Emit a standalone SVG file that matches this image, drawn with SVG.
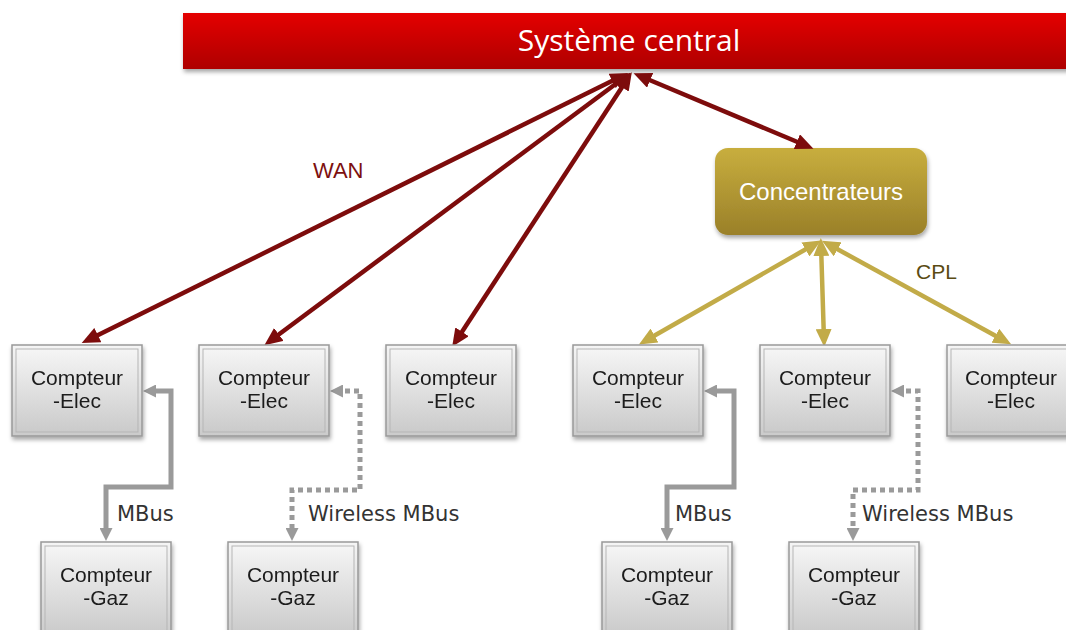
<svg xmlns="http://www.w3.org/2000/svg" width="1066" height="630" viewBox="0 0 1066 630">
<defs>
<linearGradient id="gRed" x1="0" y1="0" x2="0" y2="1"><stop offset="0" stop-color="#e40000"/><stop offset="1" stop-color="#ae0000"/></linearGradient>
<linearGradient id="gGold" x1="0" y1="0" x2="0" y2="1"><stop offset="0" stop-color="#c8ae3e"/><stop offset="1" stop-color="#9a8029"/></linearGradient>
<linearGradient id="gBox" x1="0" y1="0" x2="0" y2="1"><stop offset="0" stop-color="#f5f5f5"/><stop offset="1" stop-color="#cbcbcb"/></linearGradient>
<filter id="sh" x="-10%" y="-10%" width="130%" height="140%"><feDropShadow dx="1" dy="3" stdDeviation="2" flood-color="#000" flood-opacity="0.35"/></filter>
<marker id="aRed" markerUnits="userSpaceOnUse" viewBox="0 0 18 16" refX="11" refY="8" markerWidth="18" markerHeight="16" orient="auto-start-reverse"><path d="M0,0 L18,8 L0,16 z" fill="#7d0c0c"/></marker>
<marker id="aGold" markerUnits="userSpaceOnUse" viewBox="0 0 18 16" refX="11" refY="8" markerWidth="18" markerHeight="16" orient="auto-start-reverse"><path d="M0,0 L18,8 L0,16 z" fill="#c2ab48"/></marker>
<marker id="aGray" markerUnits="userSpaceOnUse" viewBox="0 0 13 13" refX="7" refY="6.5" markerWidth="13" markerHeight="13" orient="auto-start-reverse"><path d="M0,0 L13,6.5 L0,13 z" fill="#9a9a9a"/></marker>
<style>
.box{fill:url(#gBox);stroke:#999;stroke-width:1.5}
.inner{fill:url(#gBox);stroke:#b5b5b5;stroke-width:1}
.bt{font-family:"Liberation Sans",Arial,sans-serif;font-size:21px;fill:#1a1a1a;text-anchor:middle}
.red{stroke:#7d0c0c;stroke-width:4.5;fill:none;marker-start:url(#aRed);marker-end:url(#aRed)}
.gold{stroke:#c2ab48;stroke-width:4.5;fill:none;marker-start:url(#aGold);marker-end:url(#aGold)}
.gs{stroke:#9a9a9a;stroke-width:5;fill:none;marker-start:url(#aGray);marker-end:url(#aGray)}
.gd{stroke:#9a9a9a;stroke-width:5;fill:none;stroke-dasharray:5 4;marker-start:url(#aGray);marker-end:url(#aGray)}
.lbl{font-family:"DejaVu Sans",Verdana,sans-serif;font-size:21px;fill:#333}
</style>
</defs>

<g id="central">
<rect x="183" y="13" width="890" height="56" fill="url(#gRed)" filter="url(#sh)"/>
<text x="629" y="51" font-family="Open Sans, Liberation Sans, sans-serif" font-size="30" fill="#fff" text-anchor="middle">Système central</text>
</g>

<g id="concentrateurs">
<rect x="715" y="148" width="212" height="87" rx="13" fill="url(#gGold)" filter="url(#sh)"/>
<text x="821" y="200" font-family="Liberation Sans, Arial, sans-serif" font-size="24" fill="#fff" text-anchor="middle">Concentrateurs</text>
</g>

<g id="connectors">
<path class="red" d="M622,76 L88,340"/>
<path class="red" d="M625,77 L270,341"/>
<path class="red" d="M628,78 L456,341"/>
<path class="red" d="M640,76 L807,146"/>
<path class="gold" d="M815,244 L645,341"/>
<path class="gold" d="M821,245 L824,340"/>
<path class="gold" d="M828,244 L1005,341"/>
<path class="gs" d="M149,391 H171 V487 H106 V535"/>
<path class="gd" d="M336,391 H360 V490 H292 V535"/>
<path class="gs" d="M710,391 H734 V487 H667 V535"/>
<path class="gd" d="M897,391 H918 V490 H853 V535"/>
</g>

<g id="labels">
<text x="313" y="178" font-family="Liberation Sans, Arial, sans-serif" font-size="22" fill="#7d1010">WAN</text>
<text x="916" y="279" font-family="Liberation Sans, Arial, sans-serif" font-size="21" fill="#5a4b12">CPL</text>
<text class="lbl" x="117" y="521">MBus</text>
<text class="lbl" x="308" y="521">Wireless MBus</text>
<text class="lbl" x="675" y="521">MBus</text>
<text class="lbl" x="862" y="521">Wireless MBus</text>
</g>

<g id="elec1" filter="url(#sh)"><rect class="box" x="12" y="345" width="130" height="91"/><rect class="inner" x="16" y="349" width="122" height="83"/><text class="bt" x="77" y="385">Compteur</text><text class="bt" x="77" y="408">-Elec</text></g>
<g id="elec2" filter="url(#sh)"><rect class="box" x="199" y="345" width="130" height="91"/><rect class="inner" x="203" y="349" width="122" height="83"/><text class="bt" x="264" y="385">Compteur</text><text class="bt" x="264" y="408">-Elec</text></g>
<g id="elec3" filter="url(#sh)"><rect class="box" x="386" y="345" width="130" height="91"/><rect class="inner" x="390" y="349" width="122" height="83"/><text class="bt" x="451" y="385">Compteur</text><text class="bt" x="451" y="408">-Elec</text></g>
<g id="elec4" filter="url(#sh)"><rect class="box" x="573" y="345" width="130" height="91"/><rect class="inner" x="577" y="349" width="122" height="83"/><text class="bt" x="638" y="385">Compteur</text><text class="bt" x="638" y="408">-Elec</text></g>
<g id="elec5" filter="url(#sh)"><rect class="box" x="760" y="345" width="130" height="91"/><rect class="inner" x="764" y="349" width="122" height="83"/><text class="bt" x="825" y="385">Compteur</text><text class="bt" x="825" y="408">-Elec</text></g>
<g id="elec6" filter="url(#sh)"><rect class="box" x="947" y="345" width="130" height="91"/><rect class="inner" x="951" y="349" width="122" height="83"/><text class="bt" x="1011" y="385">Compteur</text><text class="bt" x="1011" y="408">-Elec</text></g>

<g id="gaz1" filter="url(#sh)"><rect class="box" x="41" y="542" width="130" height="95"/><rect class="inner" x="45" y="546" width="122" height="87"/><text class="bt" x="106" y="582">Compteur</text><text class="bt" x="106" y="605">-Gaz</text></g>
<g id="gaz2" filter="url(#sh)"><rect class="box" x="228" y="542" width="130" height="95"/><rect class="inner" x="232" y="546" width="122" height="87"/><text class="bt" x="293" y="582">Compteur</text><text class="bt" x="293" y="605">-Gaz</text></g>
<g id="gaz3" filter="url(#sh)"><rect class="box" x="602" y="542" width="130" height="95"/><rect class="inner" x="606" y="546" width="122" height="87"/><text class="bt" x="667" y="582">Compteur</text><text class="bt" x="667" y="605">-Gaz</text></g>
<g id="gaz4" filter="url(#sh)"><rect class="box" x="789" y="542" width="130" height="95"/><rect class="inner" x="793" y="546" width="122" height="87"/><text class="bt" x="854" y="582">Compteur</text><text class="bt" x="854" y="605">-Gaz</text></g>
</svg>
